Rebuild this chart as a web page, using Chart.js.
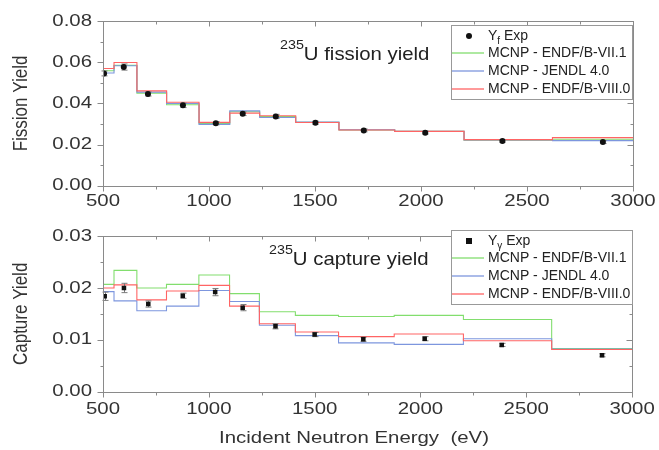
<!DOCTYPE html>
<html><head><meta charset="utf-8">
<script src="https://cdn.jsdelivr.net/npm/chart.js@4.4.1/dist/chart.umd.min.js"></script>
<style>
html,body{margin:0;padding:0;background:#fff;}
#w{position:relative;width:659px;height:450px;overflow:hidden;}
#c1{position:absolute;left:0;top:0;}
#c2{position:absolute;left:0;top:215px;}
</style></head><body>
<div id="w"><canvas id="c1" width="659" height="215"></canvas><canvas id="c2" width="659" height="235"></canvas></div>
<script>
// ---- data ----
const binEdges = [500, 552, 660, 800, 953, 1098, 1239, 1409, 1613, 1876, 2203, 2620, 3000];
const xTickValues = [500, 1000, 1500, 2000, 2500, 3000];
const fisYTicks = [0, 0.02, 0.04, 0.06, 0.08];
const capYTicks = [0, 0.01, 0.02, 0.03];

const fisENDF71 = [0.0559, 0.0585, 0.0450, 0.0394, 0.0302, 0.0360, 0.0336, 0.0308, 0.0271, 0.0264, 0.0221, 0.0226];
const fisJENDL  = [0.0548, 0.0583, 0.0455, 0.0400, 0.0298, 0.0364, 0.0332, 0.0310, 0.0272, 0.0264, 0.0222, 0.0219];
const fisENDF80 = [0.0570, 0.0599, 0.0461, 0.0406, 0.0308, 0.0353, 0.0340, 0.0307, 0.0271, 0.0264, 0.0224, 0.0234];
const fisExpX   = [505, 598, 712, 877, 1032, 1159, 1315, 1502, 1730, 2020, 2384, 2858];
const fisExpY   = [0.0546, 0.0577, 0.0446, 0.0391, 0.0304, 0.0350, 0.0337, 0.0306, 0.0269, 0.0258, 0.0217, 0.0212];
const fisExpErr = [0.0012, 0.0015, 0.0010, 0.0011, 0.0008, 0.0009, 0.0010, 0.0008, 0.0007, 0.0007, 0.0006, 0.0007];

const capENDF71 = [0.0207, 0.0234, 0.0200, 0.0207, 0.0225, 0.0189, 0.0154, 0.0147, 0.0145, 0.0147, 0.0139, 0.0083];
const capJENDL  = [0.0193, 0.0175, 0.0156, 0.0165, 0.0195, 0.0174, 0.0128, 0.0108, 0.0094, 0.0091, 0.0102, 0.0082];
const capENDF80 = [0.0200, 0.0206, 0.0177, 0.0194, 0.0205, 0.0165, 0.0131, 0.0115, 0.0106, 0.0111, 0.0098, 0.0081];
const capExpX   = [508, 599, 714, 877, 1030, 1160, 1315, 1500, 1730, 2020, 2384, 2858];
const capExpY   = [0.0184, 0.0200, 0.0169, 0.0185, 0.0192, 0.0162, 0.0126, 0.0110, 0.0101, 0.0102, 0.0090, 0.0070];
const capExpErr = [0.0008, 0.0009, 0.0006, 0.0005, 0.0007, 0.0006, 0.0005, 0.0004, 0.0004, 0.0004, 0.0003, 0.0003];

const seriesNames = ['MCNP - ENDF/B-VII.1', 'MCNP - JENDL 4.0', 'MCNP - ENDF/B-VIII.0'];
const xTitleText = 'Incident Neutron Energy  (eV)';

// ---- styling ----
const FONT = '"Liberation Sans", Arial, sans-serif';
const GREEN = 'rgb(130,222,110)', BLUE = 'rgb(125,150,222)', RED = 'rgb(255,100,100)';
const AXIS = '#8a8a8a', TXT = '#333333';

// horizontal text widening (the reference type is set wide)
let TEXT_K = 1.2;
const _fillText = CanvasRenderingContext2D.prototype.fillText;
CanvasRenderingContext2D.prototype.fillText = function (t, x, y, mw) {
  const k = TEXT_K;
  if (k === 1) return mw === undefined ? _fillText.call(this, t, x, y) : _fillText.call(this, t, x, y, mw);
  const m = this.getTransform();
  const px = m.a * x + m.c * y + m.e;
  this.save();
  this.setTransform(k * m.a, m.b, k * m.c, m.d, k * m.e + (1 - k) * px, m.f);
  if (mw === undefined) _fillText.call(this, t, x, y); else _fillText.call(this, t, x, y, mw);
  this.restore();
};

function steps(vals) {
  const p = vals.map((v, i) => ({x: binEdges[i], y: v}));
  p.push({x: binEdges[binEdges.length - 1], y: vals[vals.length - 1]});
  return p;
}
function pts(xs, ys) { return xs.map((x, i) => ({x: x, y: ys[i]})); }

const framePlugin = {
  id: 'frame',
  beforeDraw() { TEXT_K = 1.2; },
  beforeDatasetDraw(chart, args) {
    if (args.index !== 0) return;
    const {ctx, scales: {x, y}} = chart;
    const o = chart.options.plugins.frame;
    ctx.save();
    ctx.strokeStyle = '#7a7a7a';
    ctx.lineWidth = 1;
    o.xs.forEach((xv, i) => {
      const px = Math.round(x.getPixelForValue(xv)) + 0.5;
      const y1 = y.getPixelForValue(o.ys[i] - o.err[i]);
      const y2 = y.getPixelForValue(o.ys[i] + o.err[i]);
      ctx.beginPath();
      ctx.moveTo(px, y1); ctx.lineTo(px, y2);
      ctx.moveTo(px - 3, y1); ctx.lineTo(px + 3, y1);
      ctx.moveTo(px - 3, y2); ctx.lineTo(px + 3, y2);
      ctx.stroke();
    });
    ctx.restore();
  },
  afterDraw(chart) {
    const {ctx, chartArea: a, scales: {x, y}} = chart;
    const o = chart.options.plugins.frame;
    ctx.save();
    ctx.strokeStyle = AXIS;
    ctx.lineWidth = 1;
    const L = Math.round(a.left) + 0.5, R = Math.round(a.right) + 0.5;
    const T = Math.round(a.top) + 0.5, B = Math.round(a.bottom) + 0.5;
    ctx.strokeRect(L, T, R - L, B - T);
    ctx.beginPath();
    for (let v = 500; v <= 3000; v += 250) {
      const px = Math.round(x.getPixelForValue(v)) + 0.5;
      const len = (v % 500 === 0) ? 5 : 3;
      ctx.moveTo(px, B); ctx.lineTo(px, B + len);
      ctx.moveTo(px, T); ctx.lineTo(px, T + len);
    }
    const n = Math.round(o.ymax / o.yminor);
    for (let k = 0; k <= n; k++) {
      const py = Math.round(y.getPixelForValue(k * o.yminor)) + 0.5;
      const len = (k % 2 === 0) ? 6 : 3;
      ctx.moveTo(L, py); ctx.lineTo(L - len, py);
      ctx.moveTo(R, py); ctx.lineTo(R - len, py);
    }
    ctx.stroke();

    // x-axis title
    if (o.xTitle) {
      TEXT_K = 1.2;
      ctx.fillStyle = TXT;
      ctx.font = '17px ' + FONT;
      ctx.textAlign = 'center';
      ctx.textBaseline = 'middle';
      ctx.fillText(o.xTitle, 354, o.xTitleY);
    }

    // annotation
    TEXT_K = 1.1;
    ctx.fillStyle = '#222';
    ctx.textBaseline = 'alphabetic';
    ctx.textAlign = 'left';
    ctx.font = '13px ' + FONT;
    ctx.fillText('235', o.annX, o.annY - 11);
    const w = ctx.measureText('235').width * TEXT_K;
    ctx.font = '18.5px ' + FONT;
    ctx.fillText(o.annText, o.annX + w, o.annY);

    // legend
    TEXT_K = 1;
    const lx = 451, ly = o.legTop, lw = 181, lh = 74;
    ctx.fillStyle = '#fff';
    ctx.fillRect(lx, ly, lw, lh);
    ctx.strokeStyle = '#999';
    ctx.lineWidth = 1;
    ctx.strokeRect(lx + 0.5, ly + 0.5, lw, lh);
    const rows = [ly + 11, ly + 28, ly + 46, ly + 64];
    ctx.fillStyle = '#111';
    if (o.square) ctx.fillRect(466, rows[0] - 3, 6, 6);
    else { ctx.beginPath(); ctx.arc(469, rows[0], 3, 0, Math.PI * 2); ctx.fill(); }
    ctx.fillStyle = '#222';
    ctx.textBaseline = 'middle';
    ctx.font = '14px ' + FONT;
    ctx.fillText('Y', 488, rows[0]);
    const wy = ctx.measureText('Y').width;
    ctx.font = '10px ' + FONT;
    ctx.fillText(o.sub, 488 + wy, rows[0] + 5);
    const ws = ctx.measureText(o.sub).width;
    ctx.font = '14px ' + FONT;
    ctx.fillText(' Exp', 488 + wy + ws, rows[0]);
    const cols = [GREEN, BLUE, RED];
    ctx.lineWidth = 1.3;
    for (let i = 0; i < 3; i++) {
      ctx.strokeStyle = cols[i];
      ctx.beginPath();
      ctx.moveTo(452, rows[i + 1]); ctx.lineTo(484, rows[i + 1]);
      ctx.stroke();
      ctx.fillStyle = '#222';
      ctx.fillText(seriesNames[i], 488, rows[i + 1]);
    }
    ctx.restore();
    TEXT_K = 1.2;
  }
};

function makeChart(id, cfg) {
  const datasets = [
    {label: 'exp', data: pts(cfg.expX, cfg.expY), showLine: false,
     pointStyle: cfg.square ? 'rect' : 'circle', pointRadius: cfg.square ? 3.2 : 3,
     backgroundColor: '#111', borderColor: '#111', borderWidth: 0},
    {label: seriesNames[2], data: steps(cfg.red), stepped: 'before', borderColor: RED, borderWidth: 1.1, pointRadius: 0, fill: false},
    {label: seriesNames[1], data: steps(cfg.blue), stepped: 'before', borderColor: BLUE, borderWidth: 1.1, pointRadius: 0, fill: false},
    {label: seriesNames[0], data: steps(cfg.green), stepped: 'before', borderColor: GREEN, borderWidth: 1.1, pointRadius: 0, fill: false}
  ];
  return new Chart(document.getElementById(id), {
    type: 'line',
    data: {datasets},
    plugins: [framePlugin],
    options: {
      responsive: false, animation: false, events: [],
      layout: {padding: {left: 0, right: 26, top: cfg.padTop, bottom: 0}},
      plugins: {
        legend: {display: false}, tooltip: {enabled: false},
        frame: {xs: cfg.expX, ys: cfg.expY, err: cfg.err, ymax: cfg.ymax, yminor: cfg.yminor,
                annX: cfg.annX, annY: cfg.annY, annText: cfg.annText, legTop: cfg.legTop,
                sub: cfg.sub, square: cfg.square, xTitle: cfg.xTitle, xTitleY: cfg.xTitleY}
      },
      scales: {
        x: {
          type: 'linear', min: 500, max: 3000,
          afterBuildTicks: s => { s.ticks = xTickValues.map(v => ({value: v})); },
          afterFit: s => { s.height = cfg.xH; },
          grid: {display: false, drawTicks: false}, border: {display: false},
          ticks: {color: TXT, font: {family: FONT, size: 17}, padding: cfg.xPad, maxRotation: 0, autoSkip: false, callback: v => String(v)}
        },
        y: {
          type: 'linear', min: 0, max: cfg.ymax,
          afterBuildTicks: s => { s.ticks = cfg.yTicks.map(v => ({value: v})); },
          afterFit: s => { s.width = 103; },
          grid: {display: false, drawTicks: false}, border: {display: false},
          ticks: {color: TXT, font: {family: FONT, size: 17}, padding: 11, callback: v => v.toFixed(2)},
          title: {display: true, text: cfg.yTitle, color: TXT, font: {family: FONT, size: 17}, padding: {top: 11, bottom: 0}}
        }
      }
    }
  });
}

makeChart('c1', {
  expX: fisExpX, expY: fisExpY, err: fisExpErr, red: fisENDF80, blue: fisJENDL, green: fisENDF71,
  square: false, ymax: 0.08, yminor: 0.01, yTicks: fisYTicks, padTop: 20, xH: 29.3, xPad: 5,
  yTitle: 'Fission Yield', xTitle: null, xTitleY: 0, annX: 280, annY: 60, annText: 'U fission yield',
  legTop: 25, sub: 'f'
});
makeChart('c2', {
  expX: capExpX, expY: capExpY, err: capExpErr, red: capENDF80, blue: capJENDL, green: capENDF71,
  square: true, ymax: 0.03, yminor: 0.005, yTicks: capYTicks, padTop: 10.7, xH: 58.5, xPad: 8,
  yTitle: 'Capture Yield', xTitle: xTitleText, xTitleY: 223, annX: 269, annY: 50, annText: 'U capture yield',
  legTop: 15, sub: 'γ'
});
</script>
</body></html>
